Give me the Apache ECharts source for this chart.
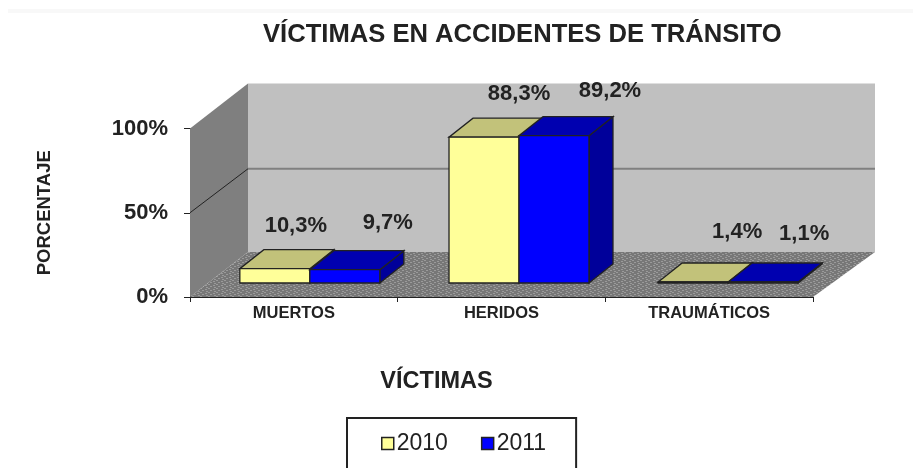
<!DOCTYPE html>
<html>
<head>
<meta charset="utf-8">
<script src="https://cdn.jsdelivr.net/npm/echarts@6/dist/echarts.min.js"></script>
<style>
  html, body { margin: 0; padding: 0; background: #fff; }
  #main { width: 913px; height: 468px; filter: blur(0.6px); }
</style>
</head>
<body>
<div id="main"></div>
<script>
const categories = ['MUERTOS', 'HERIDOS', 'TRAUMÁTICOS'];
const values2010 = [10.3, 88.3, 1.4];
const values2011 = [9.7, 89.2, 1.1];
const yTicks = [0, 50, 100];

const font = '"Liberation Sans", Arial, sans-serif';
// profundidad de la caja 3D y de las barras
const boxDepthLeft = 58;
const boxDepthRight = 62;
const boxDepthY = -45;
const barDepth = [24, -19];
const barInset = [16, -14];
// las etiquetas estan movidas a mano en el original
const labelShift2010 = [[21, -43], [35, -43], [44, -50]];
const labelShift2011 = [[43, -47], [56, -45], [41, -48]];

// textura moteada del piso
function floorPattern() {
  const c = document.createElement('canvas');
  c.width = 8; c.height = 4;
  const g = c.getContext('2d');
  g.fillStyle = '#777';
  g.fillRect(0, 0, 8, 4);
  g.fillStyle = '#9a9a9a';
  g.fillRect(0, 0, 2, 1);
  g.fillRect(5, 1, 2, 1);
  g.fillRect(2, 2, 2, 1);
  g.fillRect(6, 3, 2, 1);
  return c;
}
const floorImage = floorPattern();

function poly(points, fill, stroke, lineWidth) {
  return {
    type: 'polygon',
    shape: { points: points },
    style: { fill: fill, stroke: stroke || 'none', lineWidth: lineWidth || 0 }
  };
}

function renderWalls(params, api) {
  const box = params.coordSys;
  const dy = boxDepthY;
  const x0 = box.x, x1 = box.x + box.width;
  const xb0 = x0 + boxDepthLeft, xb1 = x1 + boxDepthRight;
  const yBottom = api.coord([0, yTicks[0]])[1];
  const yTop = api.coord([0, yTicks[2]])[1];
  const yMid = api.coord([0, yTicks[1]])[1];
  const children = [
    poly([[x0, yTop], [xb0, yTop + dy], [xb0, yBottom + dy], [x0, yBottom]], '#7f7f7f'),
    poly([[xb0, yTop + dy], [xb1, yTop + dy], [xb1, yBottom + dy], [xb0, yBottom + dy]], '#c0c0c0'),
    poly([[x0, yBottom], [x1, yBottom], [xb1, yBottom + dy], [xb0, yBottom + dy]], { image: floorImage, repeat: 'repeat' }),
    { type: 'line', shape: { x1: x0, y1: yMid, x2: xb0, y2: yMid + dy + 1 }, style: { stroke: '#222', lineWidth: 1 } },
    { type: 'line', shape: { x1: xb0, y1: yMid + dy + 1, x2: xb1, y2: yMid + dy + 1 }, style: { stroke: '#808080', lineWidth: 2 } }
  ];
  return { type: 'group', children: children };
}

function makeBars(front, top, side, offset, shifts) {
  return function (params, api) {
    const cat = api.value(0);
    const base = api.coord([cat, 0]);
    const head = api.coord([cat, api.value(1)]);
    const w = api.size([1, 0])[0] * 0.337;
    const xl = base[0] + barInset[0] + cat * 1.5 + offset * w;
    const xr = xl + w;
    const yb = base[1] + barInset[1];
    const yt = Math.min(head[1] + barInset[1] + 3, yb - 1);
    const dx = barDepth[0], dy = barDepth[1];
    const edge = '#222';
    return {
      type: 'group',
      children: [
        poly([[xr, yb], [xr + dx, yb + dy], [xr + dx, yt + dy], [xr, yt]], side, edge, 1.3),
        poly([[xl, yt], [xr, yt], [xr + dx, yt + dy], [xl + dx, yt + dy]], top, edge, 1.3),
        poly([[xl, yb], [xr, yb], [xr, yt], [xl, yt]], front, edge, 1.3),
        {
          type: 'text',
          z2: 100,
          style: {
            text: api.value(1).toFixed(1).replace('.', ',') + '%',
            x: (xl + xr) / 2 + shifts[cat][0],
            y: yt + shifts[cat][1],
            align: 'center',
            verticalAlign: 'middle',
            fill: '#222',
            font: 'bold 22px ' + font
          }
        }
      ]
    };
  };
}

const chart = echarts.init(document.getElementById('main'), null, { renderer: 'canvas' });
chart.setOption({
  animation: false,
  backgroundColor: '#fff',
  // banda tenue arriba, borde del recorte original
  graphic: [{
    type: 'rect',
    silent: true,
    z: -1,
    shape: { x: 8, y: 9, width: 905, height: 4 },
    style: { fill: '#f8f8f8' }
  }],
  title: {
    text: 'VÍCTIMAS EN ACCIDENTES DE TRÁNSITO',
    left: 258,
    top: 17,
    textStyle: { color: '#222', fontFamily: font, fontWeight: 'bold', fontSize: 25.6 }
  },
  grid: { left: 190, right: 100, top: 128.5, bottom: 171, containLabel: false },
  legend: {
    data: ['2010', '2011'],
    left: 347,
    top: 418,
    orient: 'horizontal',
    padding: [14, 30, 40, 34],
    itemGap: 33,
    itemWidth: 12,
    itemHeight: 12,
    borderColor: '#222',
    borderWidth: 2,
    icon: 'rect',
    itemStyle: { borderColor: '#222', borderWidth: 1.5 },
    textStyle: { color: '#222', fontFamily: font, fontSize: 23, padding: [0, 0, 0, -2] }
  },
  xAxis: {
    type: 'category',
    data: categories,
    name: 'VÍCTIMAS',
    nameLocation: 'center',
    nameGap: 73,
    nameTextStyle: { color: '#222', fontFamily: font, fontWeight: 'bold', fontSize: 23.5, padding: [0, 130, 0, 0] },
    axisLine: { lineStyle: { color: '#222', width: 1 } },
    axisTick: { show: true, length: 5, alignWithLabel: false, lineStyle: { color: '#222' } },
    axisLabel: { color: '#222', fontFamily: font, fontWeight: 'bold', fontSize: 16.5, margin: 8 }
  },
  yAxis: {
    type: 'value',
    min: 0,
    max: 100,
    interval: 50,
    name: 'PORCENTAJE',
    nameLocation: 'center',
    nameGap: 136,
    nameTextStyle: { color: '#222', fontFamily: font, fontWeight: 'bold', fontSize: 18.5 },
    splitLine: { show: false },
    axisLine: { show: true, lineStyle: { color: '#222', width: 1 } },
    axisTick: { show: true, length: 6, lineStyle: { color: '#222' } },
    axisLabel: { color: '#222', fontFamily: font, fontWeight: 'bold', fontSize: 22, margin: 22, formatter: '{value}%' }
  },
  series: [
    {
      name: 'walls',
      type: 'custom',
      silent: true,
      z: 1,
      data: [[0, 0]],
      renderItem: renderWalls
    },
    {
      name: '2010',
      type: 'custom',
      z: 2,
      itemStyle: { color: '#ffff99' },
      data: values2010.map(function (v, i) { return [i, v]; }),
      renderItem: makeBars('#ffff99', '#c2c27a', '#a0a060', -1, labelShift2010)
    },
    {
      name: '2011',
      type: 'custom',
      z: 3,
      itemStyle: { color: '#0000ff' },
      data: values2011.map(function (v, i) { return [i, v]; }),
      renderItem: makeBars('#0000ff', '#0000b0', '#00009a', 0, labelShift2011)
    }
  ]
});
</script>
</body>
</html>
